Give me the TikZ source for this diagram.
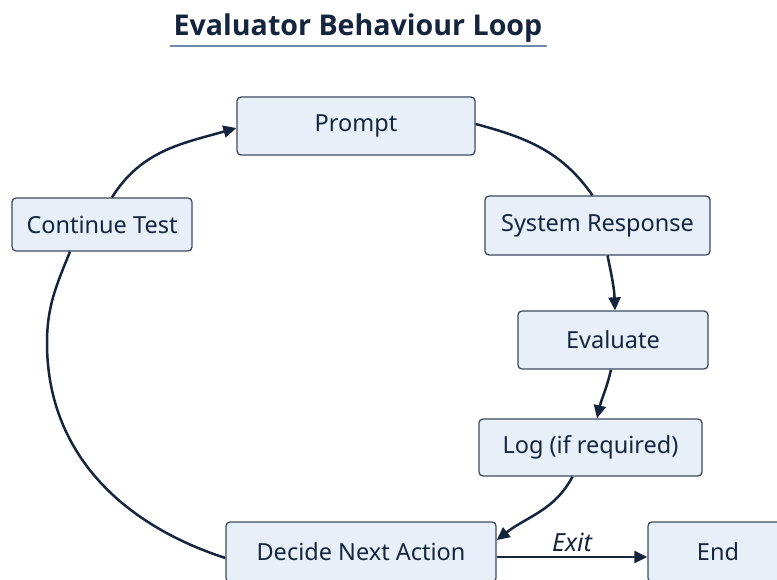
\documentclass[tikz,border=0pt]{standalone}
\usepackage{fontspec}
\setmainfont{Noto Sans}
\newfontfamily\titlefont{Open Sans}
\newfontfamily\labelfont{Noto Sans}
\usetikzlibrary{arrows.meta,calc}
\definecolor{ink}{HTML}{15253D}
\definecolor{boxfill}{HTML}{E7EFF9}
\definecolor{boxline}{HTML}{3E4C5E}
\definecolor{rule}{HTML}{6F89AA}
\tikzset{
  stepbox/.style={draw=boxline, fill=boxfill, line width=1.3pt, rounded corners=4pt,
    text=ink, font=\labelfont\fontsize{23.5}{27}\selectfont, inner sep=0pt},
  conn/.style={draw=ink, line width=2.5pt},
  arr/.style={conn, -{Triangle[length=13pt,width=12pt]}}
}
\begin{document}
\begin{tikzpicture}[x=1pt,y=1pt]
\useasboundingbox (0,0) rectangle (777,579);
\clip (0,0) rectangle (777,579);
\fill[white] (0,0) rectangle (777,579);
% title
\node[text=ink, font=\titlefont\bfseries\fontsize{28.6}{34}\selectfont] (title) at (358,551) {Evaluator Behaviour Loop};
\draw[rule, line width=1.5pt] (170,533) -- (547,533);
% boxes
\node[stepbox, minimum width=238pt, minimum height=58pt] (prompt) at (356,453) {Prompt};
\node[stepbox, minimum width=180pt, minimum height=53pt] (ct) at (102,354.5) {Continue Test};
\node[stepbox, minimum width=225pt, minimum height=59pt] (sr) at (597.5,353.5) {System Response};
\node[stepbox, minimum width=190pt, minimum height=58pt] (ev) at (613,239) {Evaluate};
\node[stepbox, minimum width=223pt, minimum height=57pt] (log) at (590.5,131.5) {Log (if required)};
\node[stepbox, minimum width=270pt, minimum height=60pt] (dec) at (361,27) {Decide Next Action};
\node[stepbox, minimum width=140pt, minimum height=60pt] (end) at (718,27) {End};
% connectors
\draw[conn] ([yshift=2pt]prompt.east) to[out=-15,in=125] ([xshift=-5pt]sr.north);
\draw[arr] ([xshift=10pt]sr.south) to[out=-78,in=92] ([xshift=2pt]ev.north);
\draw[arr] ([xshift=-2pt]ev.south) to[out=-103,in=77] ([xshift=6.5pt]log.north);
\draw[arr] ([xshift=-18pt]log.south) to[out=-118,in=38] (dec.5);
\draw[arr] ([yshift=-5pt]dec.east) -- ([yshift=-5pt]end.west)
  node[midway, above=1pt, text=ink, font=\labelfont\fontsize{25}{28}\selectfont\itshape] (exit) {Exit};
\coordinate (lm) at (47,236);
\draw[conn] ([yshift=-6pt]dec.west) to[out=162,in=-90] (lm) to[out=90,in=-112] ([xshift=-32pt]ct.south);
\draw[arr] ([xshift=10pt]ct.north) to[out=58,in=196] ([yshift=-2pt]prompt.west);
\end{tikzpicture}
\end{document}
